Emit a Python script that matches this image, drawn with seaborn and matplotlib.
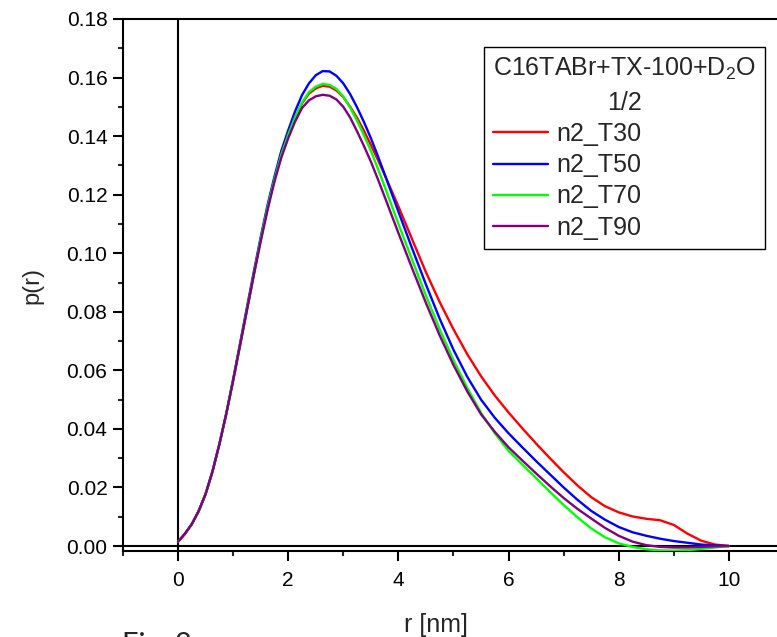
import numpy as np
import pandas as pd
import matplotlib
matplotlib.use("Agg")
import matplotlib.pyplot as plt
import seaborn as sns

# ---- data ----
r_nm = [0.0, 0.125, 0.25, 0.375, 0.5, 0.625, 0.75, 0.875, 1.0, 1.125, 1.25, 1.375,
        1.5, 1.625, 1.75, 1.875, 2.0, 2.125, 2.25, 2.375, 2.5, 2.625, 2.75, 2.875,
        3.0, 3.125, 3.25, 3.375, 3.5, 3.625, 3.75, 3.875, 4.0,
        4.25, 4.5, 4.75, 5.0, 5.25, 5.5, 5.75, 6.0, 6.25, 6.5, 6.75, 7.0, 7.25,
        7.5, 7.75, 8.0, 8.25, 8.5, 8.75, 9.0, 9.25, 9.5, 9.75, 10.0]

p_T30 = [0.0015, 0.0042, 0.0075, 0.0120, 0.0178, 0.0255, 0.0348, 0.0452, 0.0566, 0.0686,
         0.0807, 0.0928, 0.1048, 0.1156, 0.1253, 0.1337, 0.1405, 0.1463, 0.1512, 0.1545,
         0.1563, 0.1572, 0.1569, 0.1556, 0.1533, 0.1500, 0.1462, 0.1418, 0.1370, 0.1320,
         0.1268, 0.1214, 0.1160,
         0.1047, 0.0935, 0.0833, 0.0740, 0.0655, 0.0580, 0.0514, 0.0456, 0.0402, 0.0350,
         0.0300, 0.0252, 0.0207, 0.0167, 0.0136, 0.0115, 0.0101, 0.0093, 0.0088, 0.0072,
         0.0042, 0.0018, 0.0005, 0.0000]
p_T50 = [0.0015, 0.0042, 0.0075, 0.0120, 0.0178, 0.0255, 0.0348, 0.0452, 0.0570, 0.0692,
         0.0815, 0.0937, 0.1055, 0.1165, 0.1262, 0.1350, 0.1420, 0.1485, 0.1540, 0.1580,
         0.1608, 0.1622, 0.1621, 0.1606, 0.1580, 0.1543, 0.1498, 0.1448, 0.1393, 0.1333,
         0.1270, 0.1206, 0.1142,
         0.1016, 0.0893, 0.0776, 0.0670, 0.0578, 0.0500, 0.0438, 0.0385, 0.0337, 0.0290,
         0.0245, 0.0200, 0.0158, 0.0120, 0.0090, 0.0065, 0.0047, 0.0035, 0.0025, 0.0017,
         0.0011, 0.0005, 0.0002, 0.0000]
p_T70 = [0.0015, 0.0042, 0.0075, 0.0120, 0.0178, 0.0255, 0.0348, 0.0452, 0.0566, 0.0686,
         0.0807, 0.0928, 0.1048, 0.1156, 0.1253, 0.1337, 0.1405, 0.1465, 0.1515, 0.1550,
         0.1569, 0.1578, 0.1575, 0.1561, 0.1535, 0.1497, 0.1453, 0.1403, 0.1350, 0.1290,
         0.1228, 0.1164, 0.1100,
         0.0977, 0.0855, 0.0740, 0.0635, 0.0540, 0.0455, 0.0385, 0.0325, 0.0278, 0.0232,
         0.0185, 0.0140, 0.0098, 0.0060, 0.0030, 0.0009, -0.0003, -0.0011, -0.0015, -0.0016,
         -0.0014, -0.0010, -0.0005, 0.0000]
p_T90 = [0.0015, 0.0042, 0.0075, 0.0120, 0.0178, 0.0255, 0.0348, 0.0452, 0.0565, 0.0685,
         0.0805, 0.0925, 0.1040, 0.1148, 0.1245, 0.1327, 0.1393, 0.1450, 0.1496, 0.1522,
         0.1536, 0.1541, 0.1538, 0.1525, 0.1500, 0.1463, 0.1416, 0.1366, 0.1313, 0.1254,
         0.1193, 0.1131, 0.1069,
         0.0948, 0.0830, 0.0719, 0.0618, 0.0528, 0.0450, 0.0390, 0.0337, 0.0292, 0.0248,
         0.0205, 0.0164, 0.0127, 0.0094, 0.0062, 0.0035, 0.0015, 0.0003, -0.0003, -0.0005,
         -0.0005, -0.0003, -0.0001, 0.0000]

series_names = ["n2_T30", "n2_T50", "n2_T70", "n2_T90"]
series_colors = ["#FF0000", "#0000FF", "#00FF00", "#800080"]
legend_title = "C16TABr+TX-100+D$_2$O\n1/2"

x_major = [0, 2, 4, 6, 8, 10]
y_major = [0.00, 0.02, 0.04, 0.06, 0.08, 0.10, 0.12, 0.14, 0.16, 0.18]

# ---- build long table ----
frames = []
for name, vals in zip(series_names, [p_T30, p_T50, p_T70, p_T90]):
    frames.append(pd.DataFrame({"r": r_nm, "p": vals, "series": name}))
df = pd.concat(frames, ignore_index=True)

sns.set_style("ticks")
plt.rcParams["font.family"] = ["Liberation Sans", "DejaVu Sans"]
plt.rcParams["mathtext.fontset"] = "custom"
plt.rcParams["mathtext.rm"] = "Liberation Sans"
plt.rcParams["mathtext.it"] = "Liberation Sans"
plt.rcParams["mathtext.default"] = "regular"

W, H = 777, 637
fig = plt.figure(figsize=(W / 100, H / 100), dpi=100)
L, R, T, B = 123, 795, 19, 551
ax = fig.add_axes([L / W, (H - B) / H, (R - L) / W, (B - T) / H])

# zero lines
ax.axhline(0, color="black", lw=1.5, zorder=1)
ax.axvline(0, color="black", lw=1.5, zorder=1)

sns.lineplot(data=df, x="r", y="p", hue="series", palette=dict(zip(series_names, series_colors)),
             hue_order=series_names, lw=1.7, ax=ax, legend=False, sort=False,
             estimator=None, zorder=3)

ax.set_xlim(-1, 11.2)
ax.set_ylim(-0.0017, 0.18)
ax.set_xticks(x_major)
ax.set_xticklabels([str(v) for v in x_major])
ax.set_xticks([-1, 1, 3, 5, 7, 9, 11], minor=True)
ax.set_yticks(y_major)
ax.set_yticklabels([f"{v:.2f}" for v in y_major])
ax.set_yticks(np.arange(0.01, 0.18, 0.02), minor=True)

for s in ["left", "bottom", "top", "right"]:
    ax.spines[s].set_linewidth(1.5)
    ax.spines[s].set_color("black")

ax.tick_params(axis="both", which="major", direction="out", length=7.2, width=1.5,
               labelsize=15, colors="black")
ax.tick_params(axis="both", which="minor", direction="out", length=3.6, width=1.5)
ax.tick_params(axis="x", which="major", pad=7)
ax.tick_params(axis="y", which="major", pad=4)

ax.set_xlabel("r [nm]", fontsize=18)
ax.set_ylabel("p(r)", fontsize=17)
ax.xaxis.set_label_coords((436 - L) / (R - L), -(625 - B) / (B - T), transform=ax.transAxes)
ax.yaxis.set_label_coords(-(L - 32) / (R - L), 0.5, transform=ax.transAxes)
ax.xaxis.label.set_va("center")
ax.yaxis.label.set_va("center")

handles = [plt.Line2D([], [], color=c, lw=1.7) for c in series_colors]
leg = ax.legend(handles, series_names, title=legend_title, fontsize=18, title_fontsize=18,
                loc="upper right", bbox_to_anchor=((765 - L) / (R - L), (B - 47) / (B - T)),
                frameon=True, fancybox=False, framealpha=1, edgecolor="black",
                handlelength=2.2, handletextpad=0.35, labelspacing=0.29,
                borderpad=0.36, borderaxespad=0.0, alignment="left")
leg.get_frame().set_linewidth(1.0)
leg.get_title().set_multialignment("center")
leg.get_title().set_linespacing(1.45)

fig.text(122 / W, (H - 632) / H, "Fig. 2", fontsize=21, family=["Lato", "DejaVu Sans"],
         ha="left", va="top")

fig.savefig("out.png", dpi=100)
